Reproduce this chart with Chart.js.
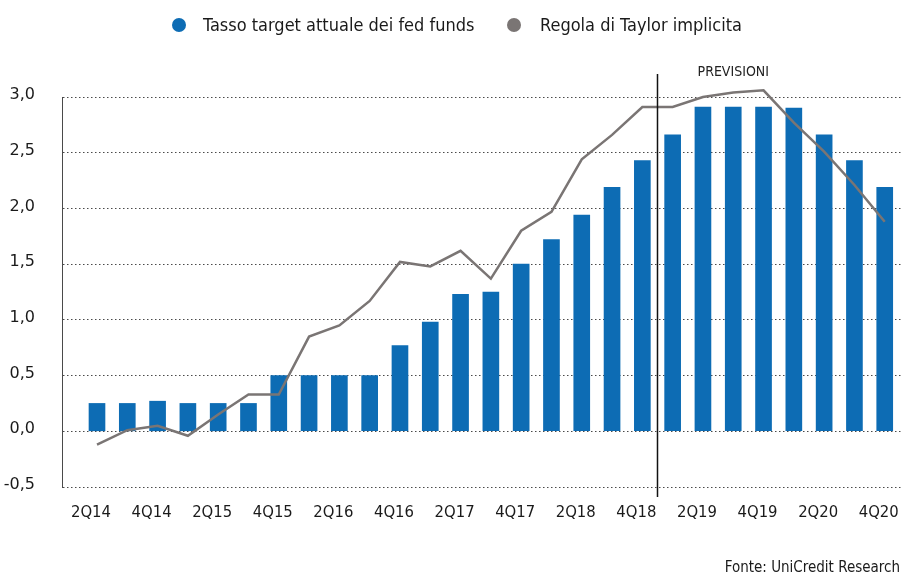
<!DOCTYPE html>
<html lang="it">
<head>
<meta charset="utf-8">
<title>Fed funds e regola di Taylor</title>
<script src="https://cdn.jsdelivr.net/npm/chart.js@4/dist/chart.umd.min.js"></script>
<style>
    html, body { margin: 0; padding: 0; background: #fff; overflow: hidden; }
    #wrap { position: relative; width: 902px; height: 575px; }
    #grafico { position: absolute; left: 0; top: 0; }
    .cond { font-family: 'DejaVu Sans Condensed', 'DejaVu Sans', sans-serif; font-stretch: condensed; color: #1a1a1a; }
    .leg { position: absolute; top: 14px; height: 22px; line-height: 22px; font-size: 18px; white-space: nowrap; }
    .dot { position: absolute; top: 18px; width: 14px; height: 14px; border-radius: 50%; }
    #fonte { position: absolute; right: 2px; top: 558px; font-size: 15px; white-space: nowrap; }
</style>
</head>
<body>
<div id="wrap">
    <canvas id="grafico" width="902" height="575"></canvas>
    <div class="dot" style="left:172px; background:#0d6cb4;"></div>
    <div class="leg cond" style="left:203px;">Tasso target attuale dei fed funds</div>
    <div class="dot" style="left:507px; background:#7a7574;"></div>
    <div class="leg cond" style="left:540px;">Regola di Taylor implicita</div>
    <div id="fonte" class="cond">Fonte: UniCredit Research</div>
</div>
<script>
// Trimestri (asse x)
var trimestri = ['2Q14', '3Q14', '4Q14', '1Q15', '2Q15', '3Q15', '4Q15', '1Q16', '2Q16', '3Q16',
                 '4Q16', '1Q17', '2Q17', '3Q17', '4Q17', '1Q18', '2Q18', '3Q18', '4Q18', '1Q19',
                 '2Q19', '3Q19', '4Q19', '1Q20', '2Q20', '3Q20', '4Q20'];

// Etichette mostrate sull'asse x (un trimestre su due)
var etichetteX = ['2Q14', '4Q14', '2Q15', '4Q15', '2Q16', '4Q16', '2Q17', '4Q17', '2Q18', '4Q18',
                  '2Q19', '4Q19', '2Q20', '4Q20'];

// Tasso target attuale dei fed funds (barre)
var tassoFed = [0.25, 0.25, 0.27, 0.25, 0.25, 0.25, 0.50, 0.50, 0.50, 0.50,
                0.77, 0.98, 1.23, 1.25, 1.50, 1.72, 1.94, 2.19, 2.43, 2.66,
                2.91, 2.91, 2.91, 2.90, 2.66, 2.43, 2.19];

// Regola di Taylor implicita (linea)
var taylor = [-0.12, 0.01, 0.05, -0.04, 0.15, 0.33, 0.33, 0.85, 0.95, 1.17,
              1.52, 1.48, 1.62, 1.37, 1.80, 1.97, 2.44, 2.66, 2.91, 2.91,
              3.00, 3.04, 3.06, 2.77, 2.51, 2.21, 1.88];

// Tick dell'asse y
var ticksY = [-0.5, 0, 0.5, 1.0, 1.5, 2.0, 2.5, 3.0];

// Inizio delle previsioni (fra 4Q18 e 1Q19) e posizione della scritta
var inizioPrevisioni = 18.5;
var posScritta = 21;

var fontCond = "'DejaVu Sans Condensed', 'DejaVu Sans', sans-serif";
var grigioPunti = '#4a4a4a';

// Linea verticale nera e scritta PREVISIONI
var pluginPrevisioni = {
    id: 'previsioni',
    afterDatasetsDraw: function(chart) {
        var ctx = chart.ctx;
        var x = chart.scales.x.getPixelForValue(inizioPrevisioni);
        var area = chart.chartArea;
        ctx.save();
        ctx.strokeStyle = '#111';
        ctx.lineWidth = 1.5;
        ctx.beginPath();
        ctx.moveTo(x, area.top - 23);
        ctx.lineTo(x, area.bottom + 10);
        ctx.stroke();
        ctx.fillStyle = '#222';
        ctx.font = "14px " + fontCond;
        ctx.textAlign = 'center';
        ctx.textBaseline = 'middle';
        ctx.fillText('PREVISIONI', chart.scales.x.getPixelForValue(posScritta), area.top - 25);
        ctx.restore();
    }
};

var ctx = document.getElementById('grafico').getContext('2d');
var grafico = new Chart(ctx, {
    type: 'bar',
    data: {
        datasets: [{
            type: 'line',
            label: 'Regola di Taylor implicita',
            data: taylor.map(function(v, i) { return { x: i, y: v }; }),
            borderColor: '#7a7574',
            borderWidth: 2.5,
            pointRadius: 0,
            tension: 0,
            clip: false,
            order: 0
        }, {
            type: 'bar',
            label: 'Tasso target attuale dei fed funds',
            data: tassoFed.map(function(v, i) { return { x: i, y: v }; }),
            backgroundColor: '#0d6cb4',
            barThickness: 16,
            order: 1
        }]
    },
    options: {
        responsive: false,
        devicePixelRatio: 1,
        animation: false,
        layout: { padding: { top: 97, left: 0, right: 0, bottom: 0 } },
        plugins: {
            legend: { display: false },
            tooltip: { enabled: false }
        },
        scales: {
            x: {
                type: 'linear',
                offset: false,
                min: -1.155,
                max: 26.57,
                grid: { display: false, drawTicks: false },
                border: { display: false },
                afterBuildTicks: function(scale) {
                    scale.ticks = etichetteX.map(function(t) { return { value: trimestri.indexOf(t) }; });
                },
                afterFit: function(scale) {
                    scale.height = 88;
                    scale.paddingLeft = 0;
                    scale.paddingRight = 0;
                },
                ticks: {
                    autoSkip: false,
                    maxRotation: 0,
                    padding: 16,
                    labelOffset: -6,
                    color: '#1a1a1a',
                    font: { family: fontCond, size: 16.5 },
                    callback: function(value) { return trimestri[value]; }
                }
            },
            y: {
                min: -0.5,
                max: 3.0,
                afterBuildTicks: function(scale) {
                    scale.ticks = ticksY.map(function(v) { return { value: v }; });
                },
                afterFit: function(scale) {
                    scale.width = 62;
                },
                grid: {
                    color: grigioPunti,
                    lineWidth: 1,
                    drawTicks: false,
                    borderDash: [1.5, 2.5]
                },
                border: { display: true, color: grigioPunti, width: 1, dash: [1.5, 2.5] },
                ticks: {
                    padding: 27,
                    labelOffset: -2,
                    color: '#1a1a1a',
                    font: { family: "'DejaVu Sans', sans-serif", size: 16 },
                    callback: function(value) { return value.toFixed(1).replace('.', ','); }
                }
            }
        }
    },
    plugins: [pluginPrevisioni]
});
</script>
</body>
</html>
